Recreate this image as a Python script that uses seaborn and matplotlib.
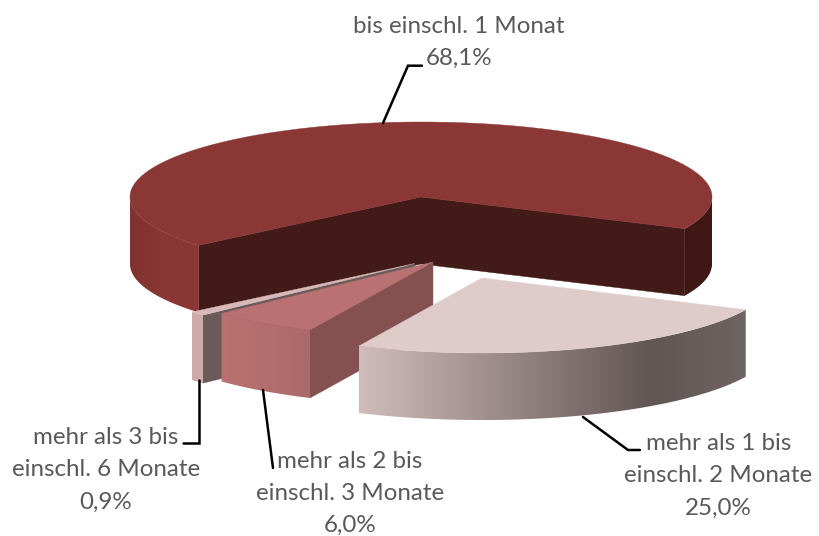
import numpy as np
import matplotlib
matplotlib.use("Agg")
import matplotlib.pyplot as plt
from matplotlib.patches import Polygon
from matplotlib.colors import to_rgb
import seaborn as sns

# Data
categories = ["mehr als 1 bis\neinschl. 2 Monate", "mehr als 2 bis\neinschl. 3 Monate",
              "mehr als 3 bis\neinschl. 6 Monate", "bis einschl. 1 Monat"]
values = [25.0, 6.0, 0.9, 68.1]
value_labels = ["25,0%", "6,0%", "0,9%", "68,1%"]

# Style / layout (pixel space of the reference)
apexes = [(482, 278), (433, 262), (414.4, 263.6), (421, 197)]
depths = [67, 68, 68, 67]
top_colors = ["#e0cbcb", "#b97271", "#d8b8b8", "#8b3735"]
cut_colors = ["#6a5a5a", "#845150", "#6a5a5a", "#421a17"]
wall_stops = [
    [(359, "#d0bcbb"), (650, "#625654"), (748, "#6e6461")],
    [(220, "#bb7270"), (310, "#aa6a69")],
    [(192, "#cfa9a9"), (203, "#cfa9a9")],
    [(130, "#80322f"), (160, "#893634"), (198, "#8b3735"), (680, "#3f1815"), (712, "#3f1815")],
]
RX, RY = 291, 75
START = -25.0
label_pos = [(718.5, 450), (350, 467.7), (106, 444), (459, 32.7)]
LINE_GAP = 32.3
leaders = [
    ([583, 628, 640], [417, 450, 450]),
    ([263, 273], [390, 468]),
    ([199, 199, 183], [380, 442.7, 442.7]),
    ([383, 408, 422], [123, 65.7, 65.7]),
]

sns.set_theme(style="white")
plt.rcParams["font.family"] = ["Lato", "DejaVu Sans"]

fig, ax = plt.subplots(figsize=(8.19, 5.36), dpi=100)
fig.subplots_adjust(0, 0, 1, 1)
ax.axis("off")


def rim(apex, ang):
    r = np.radians(ang)
    return apex[0] + RX * np.cos(r), apex[1] - RY * np.sin(r)


def gradient(stops, n=512):
    xs = np.array([s[0] for s in stops], float)
    pal = np.array([to_rgb(s[1]) for s in stops])
    grid = np.linspace(xs[0], xs[-1], n)
    img = np.stack([np.interp(grid, xs, pal[:, k]) for k in range(3)], axis=1)
    return img[None, :, :], xs[0], xs[-1]


# draw order: big slice behind, then small slices front-to-back
angle = START
edges = {}
for i, v in enumerate(values):
    edges[i] = (angle, angle - v * 3.6)
    angle -= v * 3.6

for i in [3, 2, 1, 0]:
    a0, a1 = edges[i]
    ap, d = apexes[i], depths[i]
    z = i * -3 + 20
    # cut faces visible to the viewer
    for a, normal in ((a0, a0 + 90), (a1, a1 - 90)):
        if np.sin(np.radians(normal)) < 0:
            x, y = rim(ap, a)
            ax.fill([ap[0], x, x, ap[0]], [ap[1], y, y + d, ap[1] + d],
                    color=cut_colors[i], lw=0.3, zorder=z)
    # outer rounded wall: one gradient image clipped per front-facing run
    th = np.linspace(a0, a1, 720)
    front = np.sin(np.radians(th)) <= 0
    splits = np.flatnonzero(np.diff(front.astype(int)))
    for run in np.split(np.arange(th.size), splits + 1):
        if not front[run].all():
            continue
        xs, ys = rim(ap, th[run])
        poly = np.c_[np.r_[xs, xs[::-1]], np.r_[ys, ys[::-1] + d]]
        img, x0, x1 = gradient(wall_stops[i])
        im = ax.imshow(img, extent=[x0, x1, poly[:, 1].max() + 1, poly[:, 1].min() - 1],
                       aspect="auto", interpolation="bilinear", zorder=z + 1)
        clip = Polygon(poly, closed=True, transform=ax.transData, fc="none", ec="none")
        ax.add_patch(clip)
        im.set_clip_path(clip)
    # top face
    xs, ys = rim(ap, th)
    ax.fill(np.r_[ap[0], xs], np.r_[ap[1], ys], color=top_colors[i], lw=0.3, zorder=z + 2)

ax.set_xlim(0, 819)
ax.set_ylim(536, 0)

for lx, ly in leaders:
    ax.plot(lx, ly, color="black", lw=1.8, zorder=30, solid_joinstyle="miter")

for cat, val, (x, y) in zip(categories, value_labels, label_pos):
    for k, line in enumerate(cat.split("\n") + [val]):
        ax.text(x, y + k * LINE_GAP, line, ha="center", va="baseline", fontsize=17.4,
                color="#595959", zorder=31)

fig.savefig("out.png", dpi=100)
